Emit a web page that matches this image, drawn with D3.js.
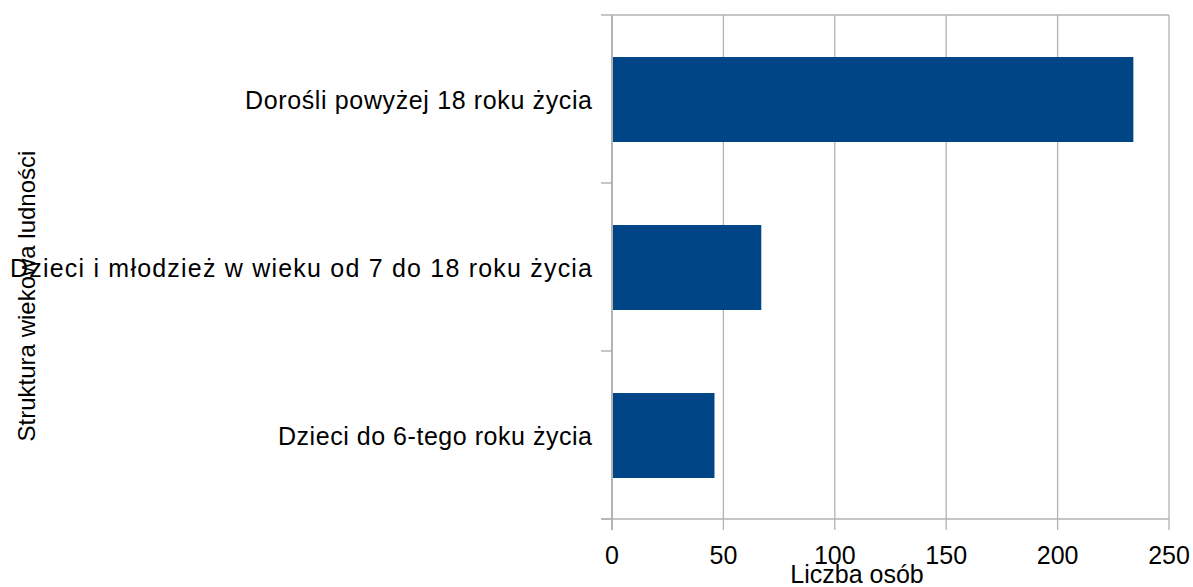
<!DOCTYPE html>
<html>
<head>
<meta charset="utf-8">
<script src="https://cdn.jsdelivr.net/npm/d3@7"></script>
<style>
  body { margin: 0; background: #fff; }
  svg text { font-family: "Liberation Sans", Arial, sans-serif; fill: #000; }
</style>
</head>
<body>
<svg width="1193" height="587"></svg>
<script>
const categories = [
  "Dorośli powyżej 18 roku życia",
  "Dzieci i młodzież w wieku od 7 do 18 roku życia",
  "Dzieci do 6-tego roku życia"
];
const values = [234, 67, 46];
const xTicks = [0, 50, 100, 150, 200, 250];
const xTitle = "Liczba osób";
const yTitle = "Struktura wiekowa ludności";

// rendered label widths in the original (its font runs a bit wide)
const labelWidths = [347, 582, 314];

const svg = d3.select("svg");
const plotLeft = 612, plotRight = 1169, plotTop = 15, plotBottom = 519;
const gridColor = "#b3b3b3";

const x = d3.scaleLinear().domain([0, 250]).range([plotLeft, plotRight]);
const y = d3.scaleBand().domain(categories).range([plotTop, plotBottom])
  .paddingInner(0.5).paddingOuter(0.25);

// gridlines (extend below as tick marks)
svg.append("g")
  .selectAll("line")
  .data(xTicks.slice(1))
  .enter()
  .append("line")
  .attr("x1", d => x(d)).attr("x2", d => x(d))
  .attr("y1", plotTop).attr("y2", plotBottom + 11)
  .attr("stroke", gridColor)
  .attr("stroke-width", 1.3);

// top border
svg.append("line")
  .attr("x1", plotLeft).attr("x2", plotRight)
  .attr("y1", plotTop).attr("y2", plotTop)
  .attr("stroke", gridColor).attr("stroke-width", 1.3);

// bars
svg.append("g")
  .selectAll("rect")
  .data(categories)
  .enter()
  .append("rect")
  .attr("x", x(0))
  .attr("y", d => y(d))
  .attr("width", (d, i) => x(values[i]) - x(0))
  .attr("height", y.bandwidth() + 1)
  .attr("fill", "#004586");

// category axis: line + ticks at band boundaries
const bounds = d3.range(categories.length + 1)
  .map(i => plotTop + i * (plotBottom - plotTop) / categories.length);
svg.append("line")
  .attr("x1", plotLeft).attr("x2", plotLeft)
  .attr("y1", plotTop).attr("y2", plotBottom + 11)
  .attr("stroke", gridColor).attr("stroke-width", 2);
svg.append("g")
  .selectAll("line")
  .data(bounds)
  .enter()
  .append("line")
  .attr("x1", plotLeft - 11).attr("x2", plotLeft)
  .attr("y1", d => d).attr("y2", d => d)
  .attr("stroke", gridColor).attr("stroke-width", 1.5);

// value axis line
svg.append("line")
  .attr("x1", plotLeft - 11).attr("x2", plotRight)
  .attr("y1", plotBottom).attr("y2", plotBottom)
  .attr("stroke", gridColor).attr("stroke-width", 1.5);

// category labels
svg.append("g")
  .selectAll("text")
  .data(categories)
  .enter()
  .append("text")
  .attr("x", 592)
  .attr("y", d => y(d) + y.bandwidth() / 2 + 10)
  .attr("text-anchor", "end")
  .attr("textLength", (d, i) => labelWidths[i])
  .attr("lengthAdjust", "spacing")
  .style("font-size", "25px")
  .text(d => d);

// value tick labels
svg.append("g")
  .selectAll("text")
  .data(xTicks)
  .enter()
  .append("text")
  .attr("x", d => x(d))
  .attr("y", 564)
  .attr("text-anchor", "middle")
  .style("font-size", "25px")
  .text(d => d);

// axis titles
svg.append("text")
  .attr("x", 857)
  .attr("y", 583)
  .attr("text-anchor", "middle")
  .style("font-size", "25px")
  .text(xTitle);

svg.append("text")
  .attr("transform", "translate(35,296) rotate(-90)")
  .attr("text-anchor", "middle")
  .style("font-size", "24px")
  .text(yTitle);
</script>
</body>
</html>
